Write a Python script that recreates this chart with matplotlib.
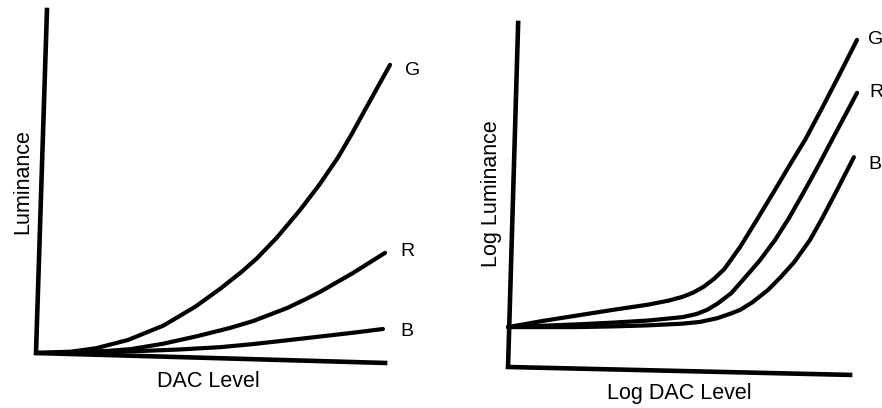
import matplotlib
matplotlib.use("Agg")
import matplotlib.pyplot as plt

plt.rcParams["font.family"] = ["Liberation Sans", "DejaVu Sans"]

# ---- Linear panel: luminance vs DAC level (0-100 scale) ----
lin_g_x = [0, 10, 17, 26, 36, 45, 52, 58, 62.4, 68, 74.6, 80, 85.3, 89, 92.9, 96.5, 100]
lin_g_y = [0, 0.4, 1.4, 3.8, 8.0, 13.5, 18.7, 23.6, 27.6, 33.6, 41.7, 49.0, 57.0, 63.5, 70.8, 77.5, 84.0]
lin_r_x = [0, 10, 20, 26.6, 35.9, 45.5, 54.8, 61.3, 70.9, 76, 80.2, 89.5, 98.6]
lin_r_y = [0, 0.15, 0.6, 1.1, 2.7, 4.9, 7.3, 9.3, 13.1, 15.6, 17.8, 23.3, 29.2]
lin_b_x = [0, 10, 20, 30, 40, 52, 61.3, 70.9, 80.2, 89.5, 98]
lin_b_y = [0, 0.05, 0.3, 0.6, 1.0, 1.7, 2.6, 3.7, 4.8, 5.9, 7.0]

# ---- Log panel: log luminance vs log DAC level (0-100 scale) ----
log_g_x = [0, 10, 20, 30, 40, 46, 50, 53, 56, 59, 62, 66.5, 71, 76.5, 81, 85.1, 90, 95, 100]
log_g_y = [11.6, 13.4, 15.0, 16.6, 18.1, 19.3, 20.4, 21.6, 23.3, 25.6, 28.5, 34.9, 42.3, 51.5, 59.2, 66.0, 75.3, 85.1, 95.1]
log_r_x = [0, 10, 20, 30, 40, 50, 54, 57, 60, 64, 67.3, 72, 76.5, 80.5, 85.1, 89, 92.8, 96.5, 100]
log_r_y = [11.6, 12.0, 12.4, 12.9, 13.5, 14.5, 15.4, 16.6, 18.4, 21.5, 25.3, 30.8, 36.9, 43.3, 51.5, 58.7, 66.0, 73.0, 79.7]
log_b_x = [0, 20, 30, 40, 50, 55, 60, 64, 66.5, 70, 74.5, 78, 82, 86.5, 90, 94.3, 99.1]
log_b_y = [11.6, 11.6, 11.8, 12.1, 12.6, 13.1, 14.2, 15.6, 16.6, 18.8, 22.4, 26.0, 30.5, 36.9, 43.2, 51.5, 61.0]

channel_names = ["G", "R", "B"]

LW = 3.0
AX_LW = 3.3
LABEL_SIZE = 15.5
TAG_SIZE = 14

fig = plt.figure(figsize=(8.82, 4.08), dpi=100)

ax1 = fig.add_axes([0.0408, 0.1348, 0.4014, 0.8407])
ax2 = fig.add_axes([0.5760, 0.1005, 0.3957, 0.8431])

for ax in (ax1, ax2):
    ax.set_xlim(0, 100)
    ax.set_ylim(0, 100)
    ax.axis("off")

# hand-drawn frames (the scanned sheet sits slightly askew)
ax1.plot([3.1, 0, 98.6], [100, 0, -2.9], color="black", lw=AX_LW,
         solid_joinstyle="miter", clip_on=False)
ax2.plot([2.9, 0, 98.0], [100, 0, -2.3], color="black", lw=AX_LW,
         solid_joinstyle="miter", clip_on=False)

for xs, ys in ((lin_g_x, lin_g_y), (lin_r_x, lin_r_y), (lin_b_x, lin_b_y)):
    ax1.plot(xs, ys, color="black", lw=LW, solid_capstyle="round",
             solid_joinstyle="round", clip_on=False)
for xs, ys in ((log_g_x, log_g_y), (log_r_x, log_r_y), (log_b_x, log_b_y)):
    ax2.plot(xs, ys, color="black", lw=LW, solid_capstyle="round",
             solid_joinstyle="round", clip_on=False)

# channel tags at the curve ends
for name, (tx, ty) in zip(channel_names, [(104.2, 82.5), (102.8, 29.7), (102.8, 6.4)]):
    ax1.text(tx, ty, name, fontsize=TAG_SIZE, ha="left", va="center", clip_on=False)
for name, (tx, ty) in zip(channel_names, [(103.2, 95.1), (103.4, 79.7), (103.2, 59.0)]):
    ax2.text(tx, ty, name, fontsize=TAG_SIZE, ha="left", va="center", clip_on=False)

# axis titles
ax1.text(-3.7, 49.9, "Luminance", rotation=90, fontsize=LABEL_SIZE,
         ha="center", va="center", clip_on=False)
ax1.text(48.6, -8.2, "DAC Level", fontsize=LABEL_SIZE,
         ha="center", va="center", clip_on=False)
ax2.text(-4.6, 50.3, "Log Luminance", rotation=90, fontsize=LABEL_SIZE,
         ha="center", va="center", clip_on=False)
ax2.text(49.0, -7.8, "Log DAC Level", fontsize=LABEL_SIZE,
         ha="center", va="center", clip_on=False)

fig.savefig("out.png", dpi=100, facecolor="white")
